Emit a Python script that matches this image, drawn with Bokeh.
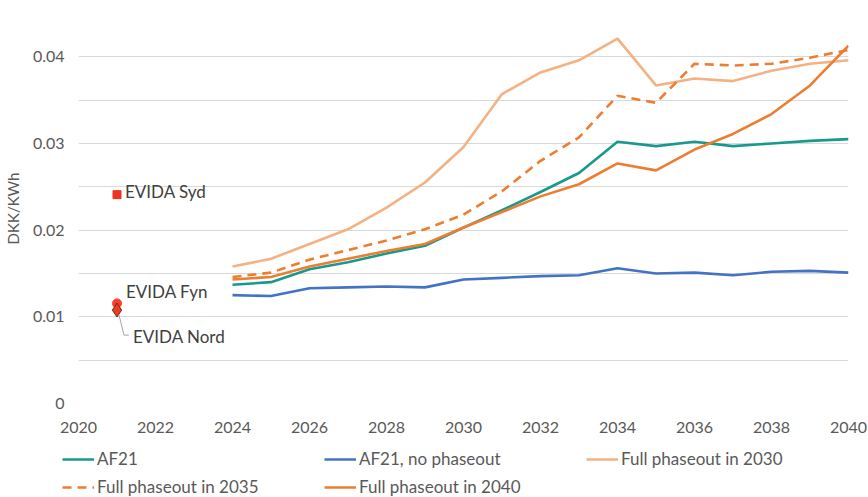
from bokeh.plotting import figure
from bokeh.layouts import column
from bokeh.models import FixedTicker, Legend, LegendItem, Range1d
from bokeh.embed import file_html
from bokeh.resources import INLINE
from bokeh.core.properties import value

# ---------------- data ----------------
years = list(range(2024, 2041))
af21 = [0.0137, 0.0140, 0.0155, 0.0163, 0.0173, 0.0182, 0.0203, 0.0223, 0.0244,
        0.0266, 0.0302, 0.0297, 0.0302, 0.0297, 0.0300, 0.0303, 0.0305]
af21_no_phaseout = [0.0125, 0.0124, 0.0133, 0.0134, 0.0135, 0.0134, 0.0143, 0.0145, 0.0147,
                    0.0148, 0.0156, 0.0150, 0.0151, 0.0148, 0.0152, 0.0153, 0.0151]
full_2030 = [0.0158, 0.0167, 0.0184, 0.0201, 0.0226, 0.0255, 0.0296, 0.0357, 0.0382,
             0.0396, 0.0421, 0.0367, 0.0375, 0.0372, 0.0384, 0.0392, 0.0396]
full_2035 = [0.0146, 0.0151, 0.0166, 0.0177, 0.0188, 0.0201, 0.0218, 0.0245, 0.0280,
             0.0307, 0.0355, 0.0347, 0.0392, 0.0390, 0.0392, 0.0399, 0.0408]
full_2040 = [0.0143, 0.0146, 0.0158, 0.0167, 0.0176, 0.0184, 0.0203, 0.0221, 0.0239,
             0.0253, 0.0277, 0.0269, 0.0293, 0.0311, 0.0334, 0.0367, 0.0413]

evida_year = 2021
evida_syd = 0.0241
evida_fyn = 0.01155
evida_nord = 0.01078

series_labels = ["AF21", "AF21, no phaseout", "Full phaseout in 2030",
                 "Full phaseout in 2035", "Full phaseout in 2040"]
x_ticks = list(range(2020, 2041, 2))
y_ticks = [0, 0.01, 0.02, 0.03, 0.04]
y_tick_labels = ["0", "0.01", "0.02", "0.03", "0.04"]
y_grid = [0, 0.005, 0.01, 0.015, 0.02, 0.025, 0.03, 0.035, 0.04, 0.045]

FONT = "Lato"
TXT = "#595959"

styles = [
    dict(line_color="#17998b", line_width=2.6),
    dict(line_color="#4472c4", line_width=2.6),
    dict(line_color="#f4b183", line_width=2.6),
    dict(line_color="#ed7d31", line_width=2.6, line_dash="9 6"),
    dict(line_color="#ed7d31", line_width=2.6),
]
series = [af21, af21_no_phaseout, full_2030, full_2035, full_2040]

W = 868
H_MAIN = 440
H_LEG = 57

p = figure(width=W, height=H_MAIN, output_backend="svg", toolbar_location=None,
           x_range=Range1d(2020, 2040), y_range=Range1d(0, 0.045),
           min_border_left=76, min_border_right=20, min_border_top=13,
           min_border_bottom=37)
p.outline_line_color = None

p.xgrid.grid_line_color = None
p.ygrid.ticker = FixedTicker(ticks=y_grid)
p.ygrid.grid_line_color = "#d9d9d9"
p.ygrid.grid_line_width = 1

p.xaxis.ticker = FixedTicker(ticks=x_ticks)
p.yaxis.ticker = FixedTicker(ticks=y_ticks)
p.yaxis.major_label_overrides = {t: l for t, l in zip(y_ticks, y_tick_labels)}
for ax in (p.xaxis[0], p.yaxis[0]):
    ax.axis_line_color = None
    ax.major_tick_line_color = None
    ax.minor_tick_line_color = None
    ax.major_label_text_font = FONT
    ax.major_label_text_font_size = "16px"
    ax.major_label_text_color = TXT
p.xaxis.major_label_standoff = 12
p.yaxis.major_label_standoff = 8
p.yaxis.axis_label = "DKK/KWh"
p.yaxis.axis_label_text_font = FONT
p.yaxis.axis_label_text_font_size = "15px"
p.yaxis.axis_label_text_font_style = "normal"
p.yaxis.axis_label_text_color = TXT
p.yaxis.axis_label_standoff = 8

for ys, st in zip(series, styles):
    p.line(years, ys, **st)

# EVIDA points
p.scatter([evida_year], [evida_syd], marker="square", size=8, fill_color="#ee3224", line_color="#ee3224")
p.scatter([evida_year], [evida_fyn], marker="circle", size=9, fill_color="#ff3b2a", line_color="#ff3b2a")
p.scatter([evida_year], [evida_nord], marker="diamond", size=14, fill_color="#e8401f",
          line_color="#6b2b1c", line_width=1)

# leader line for EVIDA Nord (pixel offsets converted to data units)
px_x = 20 / 772.0
px_y = 0.045 / 389.4
lx = [evida_year + 2 * px_x, evida_year + 7 * px_x, evida_year + 12 * px_x]
ly = [evida_nord - 5 * px_y, evida_nord - 25 * px_y, evida_nord - 25 * px_y]
p.line(lx, ly, line_color="#a6a6a6", line_width=1)

lab = dict(text_font=value(FONT), text_font_size="17px", text_color="#404040",
           text_align="left", text_baseline="middle")
p.text([evida_year], [evida_syd], text=["EVIDA Syd"], x_offset=8, y_offset=-3, **lab)
p.text([evida_year], [evida_fyn], text=["EVIDA Fyn"], x_offset=9, y_offset=-12, **lab)
p.text([evida_year], [evida_nord], text=["EVIDA Nord"], x_offset=16, y_offset=26, **lab)

# ---------------- legend (separate strip) ----------------
lg = figure(width=W, height=H_LEG, output_backend="svg", toolbar_location=None,
            x_range=Range1d(0, 1), y_range=Range1d(0, 1),
            x_axis_type=None, y_axis_type=None,
            min_border_left=0, min_border_right=0, min_border_top=0, min_border_bottom=0)
lg.outline_line_color = None
lg.grid.visible = False
for fig in (p, lg):
    try:
        fig.frame_align = False
    except Exception:
        pass

items = []
for name, ys, st in zip(series_labels, series, styles):
    # same series drawn in the strip (outside its visible range) so the legend shows the swatch
    r = lg.line(years, ys, **st)
    items.append(LegendItem(label=name, renderers=[r]))

legend = Legend(items=items, orientation="horizontal", ncols=3, location=(62, 0),
                glyph_width=32, glyph_height=18, label_height=18, label_width=220,
                label_standoff=3, spacing=7, padding=0, margin=0,
                border_line_color=None, background_fill_alpha=0,
                label_text_font=FONT, label_text_font_size="17px", label_text_color=TXT)
lg.add_layout(legend, "center")

layout = column(p, lg, spacing=0)
open("out.html", "w").write(file_html(layout, INLINE))
